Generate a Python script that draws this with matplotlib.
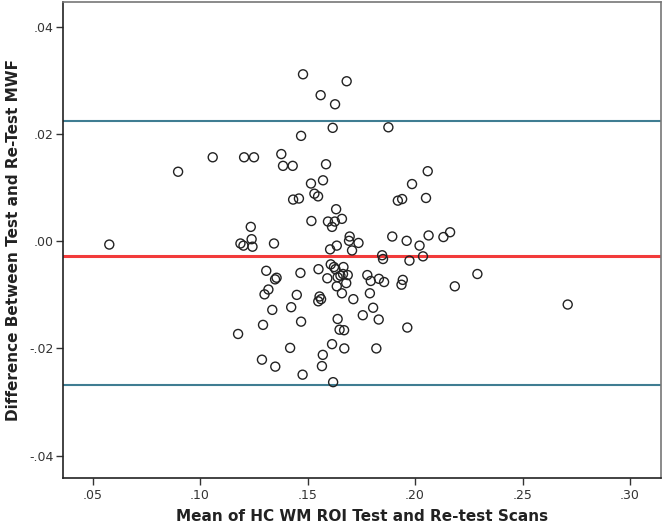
import numpy as np
import matplotlib
matplotlib.use('Agg')
import matplotlib.pyplot as plt
from matplotlib.ticker import FuncFormatter

# Bland-Altman data
mean_mwf = np.array([
    0.0578, 0.0898, 0.1059, 0.1205, 0.1251, 0.1378, 0.1386, 0.1431, 0.1470, 0.1479,
    0.1682, 0.1561, 0.1628, 0.1617, 0.1876, 0.1586, 0.2059, 0.1516, 0.1572, 0.1986,
    0.1532, 0.1549, 0.1433, 0.1460, 0.1920, 0.1940, 0.2051, 0.1633, 0.1236, 0.1518,
    0.1595, 0.1627, 0.1660, 0.1614, 0.1188, 0.1202, 0.1240, 0.1244, 0.1344, 0.1696,
    0.1693, 0.1737, 0.1636, 0.1605, 0.1707, 0.1894, 0.1961, 0.2021, 0.2063, 0.2132,
    0.2163, 0.1847, 0.1851, 0.1974, 0.2037, 0.2290, 0.2185, 0.2710, 0.1308, 0.1349,
    0.1356, 0.1467, 0.1551, 0.1608, 0.1623, 0.1630, 0.1667, 0.1592, 0.1640, 0.1653,
    0.1665, 0.1687, 0.1680, 0.1636, 0.1778, 0.1794, 0.1832, 0.1856, 0.1943, 0.1937,
    0.1318, 0.1300, 0.1450, 0.1556, 0.1563, 0.1550, 0.1660, 0.1713, 0.1790, 0.1336,
    0.1424, 0.1805, 0.1757, 0.1831, 0.1640, 0.1470, 0.1293, 0.1649, 0.1670, 0.1177,
    0.1964, 0.1419, 0.1614, 0.1671, 0.1820, 0.1288, 0.1571, 0.1350, 0.1567, 0.1477,
    0.1619,
])
diff_mwf = np.array([
    -0.0006, 0.0130, 0.0157, 0.0157, 0.0157, 0.0163, 0.0141, 0.0141, 0.0197, 0.0312,
    0.0299, 0.0273, 0.0256, 0.0212, 0.0213, 0.0144, 0.0131, 0.0108, 0.0114, 0.0107,
    0.0089, 0.0084, 0.0078, 0.0080, 0.0076, 0.0079, 0.0081, 0.0060, 0.0027, 0.0038,
    0.0037, 0.0037, 0.0042, 0.0027, -0.0004, -0.0008, 0.0004, -0.0010, -0.0004, 0.0009,
    0.0001, -0.0003, -0.0008, -0.0015, -0.0017, 0.0009, 0.0001, -0.0008, 0.0011, 0.0008,
    0.0017, -0.0026, -0.0033, -0.0036, -0.0028, -0.0061, -0.0084, -0.0118, -0.0055, -0.0071,
    -0.0068, -0.0059, -0.0052, -0.0043, -0.0048, -0.0052, -0.0048, -0.0069, -0.0067, -0.0064,
    -0.0061, -0.0063, -0.0078, -0.0084, -0.0063, -0.0074, -0.0070, -0.0076, -0.0072, -0.0081,
    -0.0090, -0.0099, -0.0100, -0.0103, -0.0108, -0.0112, -0.0097, -0.0108, -0.0097, -0.0128,
    -0.0123, -0.0124, -0.0138, -0.0146, -0.0145, -0.0150, -0.0156, -0.0165, -0.0166, -0.0173,
    -0.0161, -0.0199, -0.0192, -0.0200, -0.0200, -0.0221, -0.0212, -0.0234, -0.0233, -0.0249,
    -0.0263,
])

mean_diff = -0.0028
upper_loa = 0.0224
lower_loa = -0.0268


def spss_fmt(v, pos):
    s = f'{v:.2f}'
    if s == '-0.00':
        s = '0.00'
    return s.replace('0.', '.', 1)


fig = plt.figure(figsize=(6.64, 5.29), dpi=100)
ax = fig.add_axes([0.0953, 0.0964, 0.9002, 0.8998])

ax.axhline(upper_loa, color='#3f7d92', lw=1.5, zorder=1)
ax.axhline(lower_loa, color='#3f7d92', lw=1.5, zorder=1)
ax.axhline(mean_diff, color='#f23b3b', lw=2.2, zorder=1)

ax.scatter(mean_mwf, diff_mwf, s=42, facecolors='none', edgecolors='#222222',
           linewidths=1.0, zorder=2)

ax.set_xlim(0.0364, 0.3144)
ax.set_ylim(-0.0442, 0.0447)
ax.set_xticks([0.05, 0.10, 0.15, 0.20, 0.25, 0.30])
ax.set_yticks([-0.04, -0.02, 0.0, 0.02, 0.04])
ax.xaxis.set_major_formatter(FuncFormatter(spss_fmt))
ax.yaxis.set_major_formatter(FuncFormatter(spss_fmt))

ax.tick_params(direction='out', length=5, width=1, colors='#333333',
               labelsize=9, top=False, right=False)
ax.tick_params(axis='x', pad=3)
ax.tick_params(axis='y', pad=2)

for side in ('left', 'bottom'):
    ax.spines[side].set_color('#222222')
    ax.spines[side].set_linewidth(1.2)
for side in ('top', 'right'):
    ax.spines[side].set_color('#777777')
    ax.spines[side].set_linewidth(1.2)

ax.set_xlabel('Mean of HC WM ROI Test and Re-test Scans', fontsize=11,
              fontweight='bold', color='#222222', labelpad=5)
ax.set_ylabel('Difference Between Test and Re-Test MWF', fontsize=11,
              fontweight='bold', color='#222222', labelpad=6)

fig.savefig('out.png', dpi=100)
plt.close(fig)
